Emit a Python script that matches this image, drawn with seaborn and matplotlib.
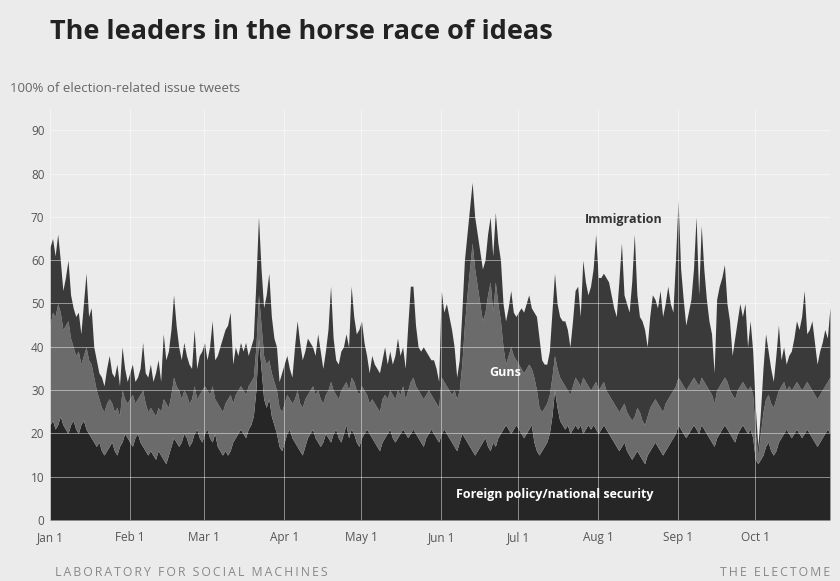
import numpy as np
import pandas as pd
import matplotlib
matplotlib.use("Agg")
import matplotlib.pyplot as plt
import matplotlib.dates as mdates
import seaborn as sns

# daily values, Jan 1 - Oct 30 2016 (% of election-related issue tweets)
# upper edge of the whole stack (foreign + guns + immigration)
total_top = [
    63, 65, 61, 66, 60, 53, 56, 60, 52, 49,
    47, 48, 43, 50, 57, 47, 49, 40, 37, 34,
    33, 31, 35, 38, 34, 33, 36, 31, 40, 35,
    32, 34, 36, 32, 33, 35, 41, 34, 33, 36,
    32, 34, 37, 32, 43, 37, 39, 44, 52, 45,
    40, 37, 41, 38, 36, 35, 44, 35, 38, 39,
    41, 37, 40, 46, 37, 38, 40, 42, 44, 45,
    48, 36, 40, 38, 41, 39, 41, 38, 40, 42,
    55, 70, 58, 49, 52, 57, 47, 42, 40, 32,
    34, 36, 38, 35, 33, 40, 46, 41, 37, 39,
    42, 41, 40, 38, 43, 39, 35, 39, 44, 54,
    42, 37, 36, 39, 40, 43, 40, 54, 47, 43,
    44, 46, 41, 38, 34, 38, 36, 35, 34, 37,
    40, 36, 39, 36, 38, 42, 38, 40, 35, 45,
    54, 54, 45, 40, 39, 40, 39, 38, 37, 37,
    35, 32, 53, 48, 50, 47, 44, 40, 33, 37,
    48, 60, 66, 72, 78, 70, 66, 62, 58, 60,
    66, 70, 61, 71, 64, 60, 50, 46, 49, 53,
    48, 47, 48, 49, 48, 50, 52, 49, 48, 47,
    42, 37, 36, 36, 39, 48, 57, 50, 47, 46,
    46, 44, 40, 46, 53, 54, 47, 60, 55, 52,
    54, 58, 66, 56, 56, 57, 56, 55, 52, 49,
    47, 55, 64, 52, 50, 48, 55, 66, 52, 47,
    46, 44, 40, 47, 52, 51, 49, 53, 47, 50,
    54, 50, 48, 60, 74, 58, 51, 45, 48, 51,
    58, 70, 52, 68, 58, 51, 46, 43, 34, 51,
    54, 56, 59, 50, 46, 38, 42, 46, 50, 47,
    50, 40, 46, 39, 26, 17, 25, 35, 43, 39,
    35, 32, 38, 45, 37, 40, 36, 38, 39, 42,
    46, 44, 47, 53, 43, 44, 46, 41, 36, 39, 41, 44, 42, 49,
]

# upper edge of the guns layer (foreign + guns)
guns_top = [
    45, 48, 47, 50, 48, 44, 45, 46, 42, 40,
    38, 39, 36, 38, 40, 37, 36, 33, 30, 28,
    26, 25, 27, 28, 27, 25, 26, 24, 30, 28,
    27, 28, 29, 27, 28, 29, 30, 27, 25, 26,
    25, 24, 26, 25, 28, 27, 26, 29, 33, 31,
    30, 28, 30, 29, 27, 28, 31, 28, 29, 30,
    31, 30, 29, 31, 28, 27, 26, 25, 27, 28,
    29, 27, 29, 30, 31, 30, 29, 31, 32, 33,
    40, 52, 45, 38, 36, 37, 34, 32, 30, 26,
    25, 27, 29, 28, 27, 28, 30, 27, 26, 28,
    29, 30, 31, 29, 30, 28, 27, 29, 30, 32,
    30, 29, 28, 30, 31, 32, 30, 33, 32, 30,
    29, 31, 30, 29, 27, 28, 27, 26, 25, 28,
    29, 28, 30, 29, 28, 30, 29, 31, 28, 30,
    32, 33, 31, 30, 29, 28, 29, 30, 29, 28,
    27, 26, 33, 32, 31, 30, 29, 30, 28, 30,
    36, 45, 52, 58, 64, 58, 54, 50, 46, 48,
    52, 55, 48, 55, 50, 46, 40, 36, 38, 40,
    38, 37, 36, 35, 34, 35, 36, 35, 33, 30,
    26, 25, 26, 27, 29, 33, 38, 35, 33, 32,
    31, 30, 29, 31, 33, 32, 31, 33, 32, 31,
    30, 31, 32, 30, 31, 32, 30, 29, 28, 27,
    26, 25, 26, 27, 25, 24, 23, 24, 26, 25,
    23, 22, 24, 26, 27, 28, 27, 26, 25, 27,
    28, 29, 30, 31, 33, 32, 31, 30, 31, 32,
    33, 32, 31, 33, 32, 31, 30, 29, 27, 30,
    31, 32, 33, 32, 30, 29, 28, 30, 31, 32,
    31, 30, 31, 29, 20, 15, 20, 25, 28, 29,
    27, 26, 28, 30, 31, 32, 30, 31, 30, 31,
    32, 31, 30, 31, 32, 31, 30, 29, 28, 29, 30, 31, 32, 33,
]

# upper edge of the foreign policy / national security layer
foreign_top = [
    22, 23, 21, 22, 24, 22, 21, 20, 22, 23,
    21, 20, 22, 23, 21, 20, 19, 18, 17, 18,
    16, 15, 16, 17, 18, 16, 15, 17, 18, 20,
    19, 18, 17, 19, 20, 18, 17, 16, 15, 16,
    15, 14, 16, 15, 14, 13, 15, 17, 19, 18,
    17, 18, 20, 19, 17, 18, 20, 21, 19, 18,
    20, 21, 19, 18, 20, 17, 16, 15, 16, 15,
    16, 18, 19, 20, 21, 20, 19, 21, 22, 24,
    30, 42, 35, 28, 26, 28, 24, 22, 20, 17,
    16, 18, 20, 21, 19, 18, 17, 16, 15, 17,
    19, 20, 21, 19, 18, 17, 18, 20, 19, 18,
    20, 21, 19, 18, 20, 22, 19, 21, 20, 18,
    17, 19, 20, 21, 20, 19, 18, 17, 16, 18,
    19, 20, 21, 19, 18, 19, 20, 21, 20, 19,
    20, 21, 20, 19, 18, 17, 19, 20, 21, 20,
    19, 18, 20, 21, 20, 19, 18, 17, 16, 18,
    20, 19, 18, 17, 16, 15, 16, 17, 18, 19,
    17, 16, 18, 17, 19, 20, 21, 22, 21, 20,
    21, 22, 21, 20, 19, 20, 21, 22, 18, 16,
    15, 16, 17, 18, 20, 24, 30, 26, 23, 22,
    21, 22, 20, 21, 22, 21, 22, 20, 21, 22,
    21, 22, 21, 20, 21, 22, 21, 20, 19, 18,
    17, 16, 17, 18, 16, 15, 14, 15, 16, 15,
    14, 13, 15, 16, 17, 18, 17, 16, 15, 16,
    17, 18, 19, 20, 22, 21, 20, 19, 20, 21,
    22, 21, 20, 22, 21, 20, 19, 18, 17, 19,
    20, 21, 22, 21, 20, 19, 18, 20, 21, 22,
    21, 20, 21, 19, 14, 13, 14, 15, 17, 18,
    16, 15, 16, 18, 19, 20, 21, 20, 19, 20,
    21, 20, 19, 20, 21, 20, 19, 18, 17, 18, 19, 20, 21, 20,
]

dates = pd.date_range("2016-01-01", periods=len(total_top), freq="D")
month_ticks = pd.date_range("2016-01-01", "2016-10-01", freq="MS")
y_ticks = [0, 10, 20, 30, 40, 50, 60, 70, 80, 90]

bg = "#ebebeb"
sns.set_theme(style="white")
plt.rcParams["font.family"] = ["Open Sans", "DejaVu Sans"]

fig = plt.figure(figsize=(8.4, 5.81), dpi=100, facecolor=bg)
ax = fig.add_axes([0.0595, 0.105, 0.9285, 0.708])
ax.set_facecolor(bg)

ax.fill_between(dates, 0, foreign_top, color="#262626", lw=0, zorder=1)
ax.fill_between(dates, foreign_top, guns_top, color="#6b6b6b", lw=0, zorder=1)
ax.fill_between(dates, guns_top, total_top, color="#3a3a3a", lw=0, zorder=1)

# white grid drawn over the areas
for t in month_ticks:
    ax.axvline(t, color="white", lw=0.6, alpha=0.55, zorder=2)
for v in y_ticks[1:]:
    ax.axhline(v, color="white", lw=0.6, alpha=0.55, zorder=2)

ax.set_xlim(dates[0], dates[-1])
ax.set_ylim(0, 95)
ax.set_xticks(month_ticks)
ax.xaxis.set_major_formatter(mdates.DateFormatter("%b 1"))
ax.set_yticks(y_ticks)
ax.tick_params(axis="both", length=0, labelsize=8.5, labelcolor="#555555")
ax.tick_params(axis="y", pad=4)
ax.tick_params(axis="x", pad=8)
sns.despine(ax=ax, left=True, bottom=True)

ax.text(pd.Timestamp("2016-08-11"), 69.5, "Immigration", fontsize=9,
        fontweight="bold", color="#333333", ha="center", va="center", zorder=3)
ax.text(pd.Timestamp("2016-06-26"), 34, "Guns", fontsize=9,
        fontweight="bold", color="white", ha="center", va="center", zorder=3)
ax.text(pd.Timestamp("2016-07-15"), 6, "Foreign policy/national security",
        fontsize=9, fontweight="bold", color="white", ha="center", va="center",
        zorder=3)

fig.text(50 / 840, 1 - 32 / 581, "The leaders in the horse race of ideas",
         fontsize=19.5, fontweight="bold", color="#222222", va="center")
fig.text(10 / 840, 1 - 88 / 581, "100% of election-related issue tweets",
         fontsize=9.5, color="#666666", va="center")
fig.text(55 / 840, 1 - 572 / 581, "\u2009".join("LABORATORY FOR SOCIAL MACHINES"),
         fontsize=8.8, color="#888888", va="center")
fig.text(830 / 840, 1 - 572 / 581, "\u2009".join("THE ELECTOME"),
         fontsize=8.8, color="#888888", va="center", ha="right")

fig.savefig("out.png", dpi=100, facecolor=bg)
